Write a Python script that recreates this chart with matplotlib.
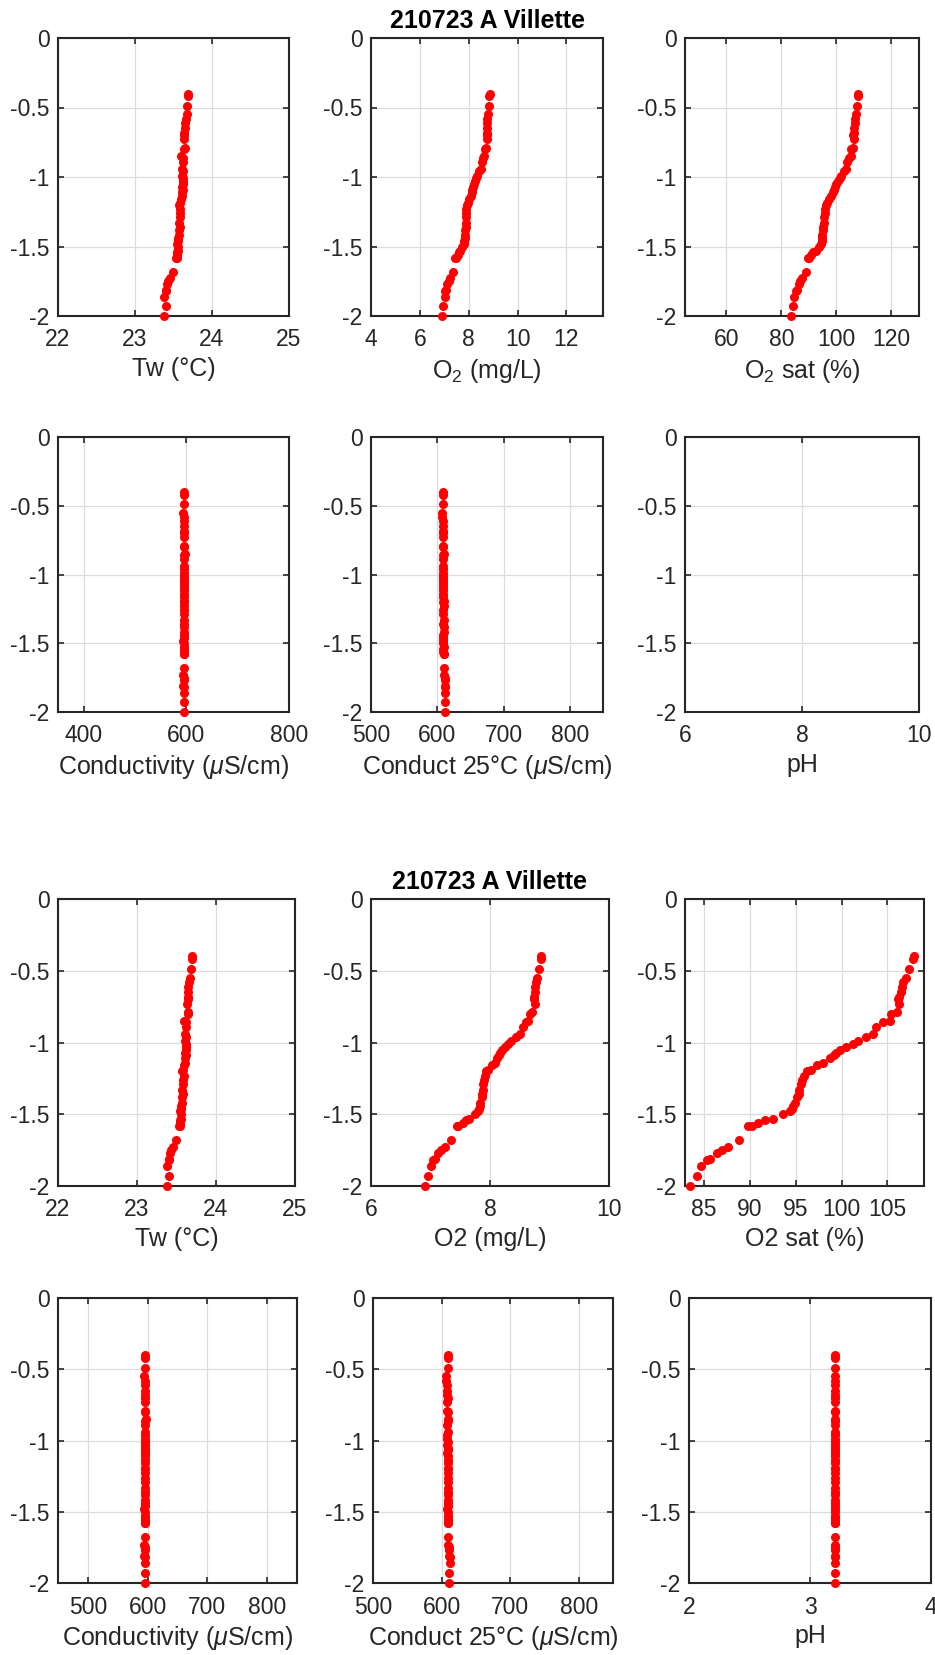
import matplotlib
matplotlib.use("Agg")
import matplotlib.pyplot as plt
from matplotlib.ticker import FuncFormatter

plt.rcParams['font.family'] = ['Liberation Sans', 'DejaVu Sans']
plt.rcParams['mathtext.fontset'] = 'custom'
plt.rcParams['mathtext.rm'] = 'Liberation Sans'
plt.rcParams['mathtext.it'] = 'Liberation Sans:italic'
plt.rcParams['axes.unicode_minus'] = False

title = "210723 A Villette"

# depth profile (m)
depth = [-0.40, -0.42, -0.49, -0.55, -0.58, -0.61, -0.65, -0.68, -0.70, -0.73,
         -0.79, -0.80, -0.85, -0.86, -0.89, -0.94, -0.96, -0.99, -1.01, -1.03,
         -1.05, -1.07, -1.09, -1.11, -1.14, -1.16, -1.19, -1.20, -1.23, -1.26,
         -1.29, -1.33, -1.36, -1.38, -1.42, -1.44, -1.46, -1.48, -1.50, -1.53,
         -1.54, -1.56, -1.58, -1.58, -1.68, -1.73, -1.75, -1.77, -1.81, -1.82,
         -1.86, -1.93, -2.00]

tw = [23.69, 23.69, 23.68, 23.67, 23.66, 23.65, 23.65, 23.64, 23.64, 23.63,
      23.65, 23.64, 23.60, 23.62, 23.62, 23.61, 23.62, 23.61, 23.62, 23.62,
      23.62, 23.61, 23.62, 23.61, 23.61, 23.60, 23.58, 23.57, 23.59, 23.58,
      23.58, 23.57, 23.58, 23.57, 23.57, 23.56, 23.56, 23.55, 23.56, 23.56,
      23.55, 23.54, 23.53, 23.54, 23.49, 23.45, 23.43, 23.42, 23.40, 23.40,
      23.38, 23.40, 23.38]

o2 = [8.86, 8.85, 8.82, 8.79, 8.77, 8.76, 8.75, 8.74, 8.74, 8.75,
      8.71, 8.67, 8.64, 8.60, 8.55, 8.50, 8.44, 8.36, 8.31, 8.25,
      8.20, 8.17, 8.15, 8.12, 8.08, 8.03, 7.96, 7.93, 7.91, 7.90,
      7.89, 7.88, 7.87, 7.86, 7.84, 7.83, 7.82, 7.79, 7.74, 7.64,
      7.60, 7.55, 7.47, 7.44, 7.34, 7.24, 7.18, 7.13, 7.07, 7.05,
      7.01, 6.96, 6.91]

o2_sat = [107.9, 107.8, 107.4, 107.0, 106.7, 106.6, 106.5, 106.3, 106.2, 106.3,
          106.0, 105.4, 105.3, 104.5, 103.8, 103.4, 102.7, 101.8, 101.3, 100.5,
          99.8, 99.4, 99.2, 98.7, 98.0, 97.3, 96.7, 96.2, 95.9, 95.7,
          95.6, 95.4, 95.3, 95.1, 94.9, 94.7, 94.6, 94.4, 93.6, 92.5,
          91.6, 90.9, 90.2, 89.8, 88.8, 87.6, 86.9, 86.4, 85.6, 85.3,
          84.7, 84.2, 83.5]

cond = [596, 596, 596, 594, 595, 595, 596, 595, 596, 596,
        595, 596, 597, 596, 595, 596, 595, 595, 596, 595,
        596, 596, 595, 596, 595, 595, 596, 595, 596, 596,
        595, 596, 595, 596, 596, 595, 595, 594, 595, 596,
        595, 595, 596, 596, 595, 594, 595, 595, 594, 595,
        595, 595, 595]

cond25 = [609, 609, 609, 607, 607, 608, 608, 608, 609, 608,
          608, 609, 610, 609, 608, 609, 608, 608, 609, 608,
          609, 609, 608, 609, 609, 609, 610, 609, 610, 609,
          609, 610, 609, 610, 610, 609, 609, 608, 609, 610,
          609, 609, 610, 610, 610, 610, 611, 611, 611, 612,
          612, 611, 611]

ph = [3.21] * len(depth)

ytick_vals = [0, -0.5, -1, -1.5, -2]

# two sets of panels: (label, values, xlim, xticks)
set_top = [
    ("Tw (°C)", tw, (22, 25), [22, 23, 24, 25]),
    ("O$_2$ (mg/L)", o2, (4, 13.5), [4, 6, 8, 10, 12]),
    ("O$_2$ sat (%)", o2_sat, (45, 130), [60, 80, 100, 120]),
    ("Conductivity ($\\mu$S/cm)", cond, (350, 800), [400, 600, 800]),
    ("Conduct 25°C ($\\mu$S/cm)", cond25, (500, 850), [500, 600, 700, 800]),
    ("pH", ph, (6, 10), [6, 8, 10]),
]
set_bottom = [
    ("Tw (°C)", tw, (22, 25), [22, 23, 24, 25]),
    ("O2 (mg/L)", o2, (6, 10), [6, 8, 10]),
    ("O2 sat (%)", o2_sat, (82.9, 109), [85, 90, 95, 100, 105]),
    ("Conductivity ($\\mu$S/cm)", cond, (450, 850), [500, 600, 700, 800]),
    ("Conduct 25°C ($\\mu$S/cm)", cond25, (500, 850), [500, 600, 700, 800]),
    ("pH", ph, (2, 4), [2, 3, 4]),
]

W, H = 935, 1655
# axes boxes in pixels (left, top, right, bottom)
boxes_top = [(58, 38, 289, 316), (371, 38, 603, 316), (685, 38, 919, 316),
             (58, 437, 289, 712), (371, 437, 603, 712), (685, 437, 919, 712)]
boxes_bottom = [(58, 899, 295, 1186), (371, 899, 609, 1186), (685, 899, 924, 1186),
                (58, 1298, 297, 1583), (373, 1298, 613, 1583), (689, 1298, 931, 1583)]

fig = plt.figure(figsize=(W / 100, H / 100), dpi=100)
fmt = FuncFormatter(lambda v, p: "%g" % v)
dark = "#262626"

for panels, boxes in [(set_top, boxes_top), (set_bottom, boxes_bottom)]:
    for i, ((label, vals, xlim, xticks), (l, t, r, b)) in enumerate(zip(panels, boxes)):
        ax = fig.add_axes([l / W, 1 - b / H, (r - l) / W, (b - t) / H])
        # keep only points inside the x range, markers are not cut at the frame
        pts = [(v, d) for v, d in zip(vals, depth) if xlim[0] <= v <= xlim[1]]
        if pts:
            xs, ys = zip(*pts)
            ax.plot(xs, ys, 'o', color='red', markersize=6.5, markeredgewidth=0,
                    clip_on=False, zorder=3)
        ax.set_xlim(*xlim)
        ax.set_ylim(-2, 0)
        ax.set_xticks(xticks)
        ax.set_yticks(ytick_vals)
        ax.xaxis.set_major_formatter(fmt)
        ax.yaxis.set_major_formatter(fmt)
        ax.grid(True, color='#dcdcdc', linewidth=0.9)
        ax.set_axisbelow(True)
        ax.tick_params(direction='in', top=True, right=True, length=4, width=1.2,
                       labelsize=16.5, colors=dark)
        ax.tick_params(axis='x', pad=9)
        ax.tick_params(axis='y', pad=6)
        for s in ax.spines.values():
            s.set_color(dark)
            s.set_linewidth(1.5)
        ax.set_xlabel(label, fontsize=18, color=dark, labelpad=4)
        if i == 1:
            ax.set_title(title, fontsize=18, fontweight='bold', color='black', pad=7)

fig.savefig("out.png", dpi=100)
